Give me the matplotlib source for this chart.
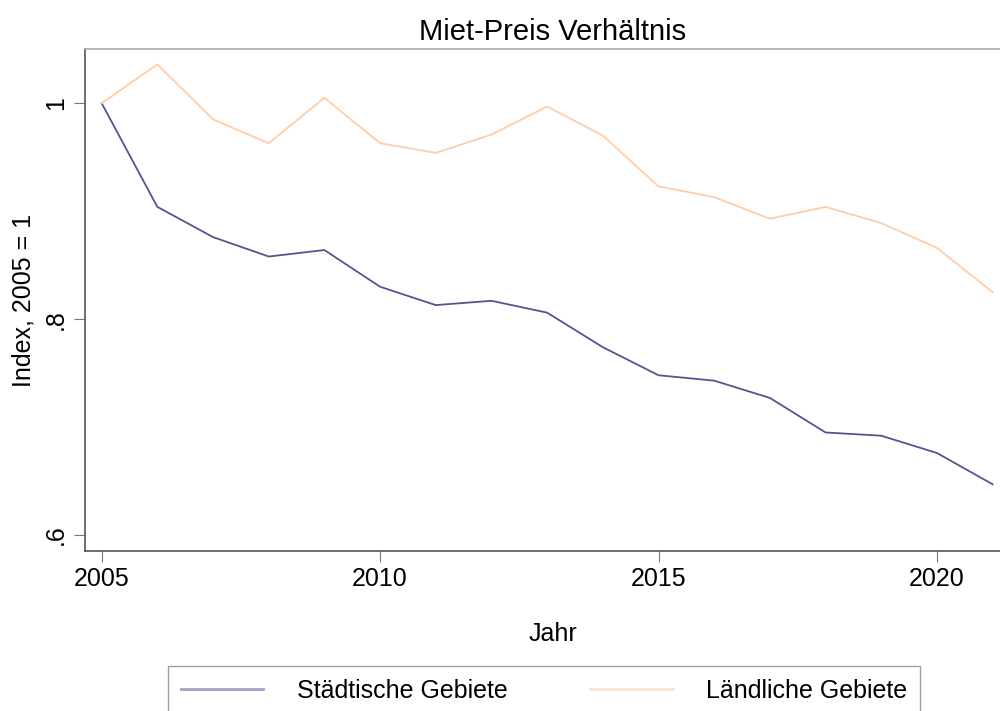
import matplotlib
matplotlib.use('Agg')
import matplotlib.pyplot as plt

# Daten
jahre = [2005, 2006, 2007, 2008, 2009, 2010, 2011, 2012, 2013,
         2014, 2015, 2016, 2017, 2018, 2019, 2020, 2021]
staedtisch = [1.0, 0.904, 0.876, 0.858, 0.864, 0.830, 0.813, 0.817, 0.806,
              0.774, 0.748, 0.743, 0.727, 0.695, 0.692, 0.676, 0.647]
laendlich = [1.0, 1.036, 0.985, 0.963, 1.005, 0.963, 0.954, 0.971, 0.997,
             0.970, 0.923, 0.913, 0.893, 0.904, 0.889, 0.866, 0.825]

x_ticks = [2005, 2010, 2015, 2020]
y_ticks = [0.6, 0.8, 1.0]
y_labels = ['.6', '.8', '1']

plt.rcParams['font.family'] = ['Liberation Sans', 'DejaVu Sans']

fig = plt.figure(figsize=(10, 7.11), dpi=100)
# Achsen ragen rechts etwas über das Bild hinaus (wie im Original abgeschnitten)
ax = fig.add_axes([0.0847, 0.2255, 1.021 - 0.0847, 0.7052])

lila = '#5b5190'
orange = '#ffcda8'
ax.plot(jahre, staedtisch, color=lila, lw=1.3, label='Städtische Gebiete')
ax.plot(jahre, laendlich, color=orange, lw=1.3, label='Ländliche Gebiete')

ax.set_xlim(2004.695, 2021.51)
ax.set_ylim(0.5855, 1.05)
ax.set_xticks(x_ticks)
ax.set_xticklabels([str(j) for j in x_ticks], fontsize=18)
ax.set_yticks(y_ticks)
ax.set_yticklabels(y_labels, fontsize=18, rotation=90, va='center')
ax.tick_params(axis='both', direction='out', length=8, width=0.8, color='#777777', pad=4)

ax.spines['right'].set_visible(False)
ax.spines['top'].set_color('#aaaaaa')
ax.spines['left'].set_color('#555555')
ax.spines['bottom'].set_color('#555555')
for s in ['top', 'left', 'bottom']:
    ax.spines[s].set_linewidth(1.2)

ax.set_title('Miet-Preis Verhältnis', fontsize=21, pad=7)
ax.set_xlabel('Jahr', fontsize=18, labelpad=22)
ax.set_ylabel('Index, 2005 = 1', fontsize=18, labelpad=6)

leg = fig.legend(loc='upper left', bbox_to_anchor=(0.168, 1 - 666 / 711), ncol=2,
                 fontsize=18, frameon=True, fancybox=False, edgecolor='#888888',
                 handlelength=3.3, handletextpad=1.35, columnspacing=3.3,
                 borderpad=0.5, borderaxespad=0)
leg.get_frame().set_linewidth(1.0)
for line in leg.get_lines():
    line.set_linewidth(2.0)
    line.set_alpha(0.55)

plt.savefig('out.png', dpi=100)
